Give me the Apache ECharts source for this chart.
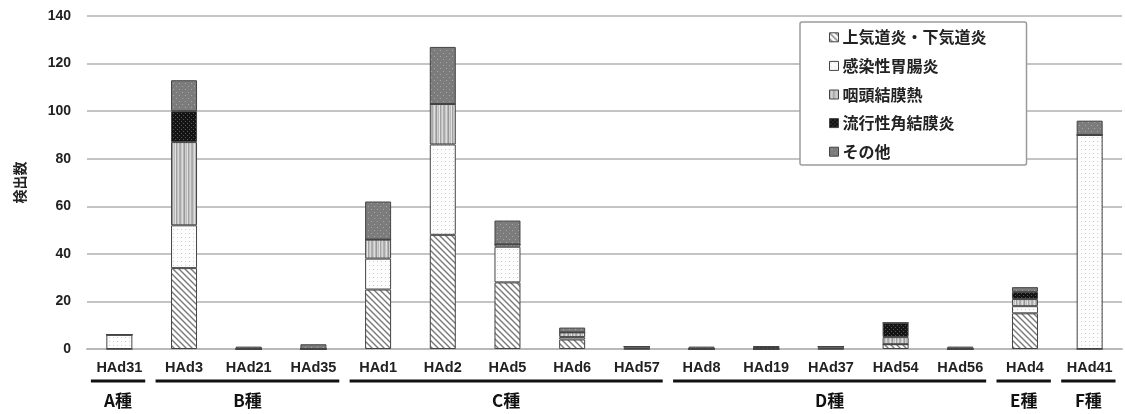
<!DOCTYPE html>
<html><head><meta charset="utf-8">
<script src="https://cdn.jsdelivr.net/npm/echarts@6/dist/echarts.min.js"></script>
<style>html,body{margin:0;padding:0;background:#fff}#c{width:1125px;height:414px}</style>
</head><body><div id="c"></div>
<script>
const categories = ['HAd31','HAd3','HAd21','HAd35','HAd1','HAd2','HAd5','HAd6','HAd57','HAd8','HAd19','HAd37','HAd54','HAd56','HAd4','HAd41'];
const seriesNames = ['上気道炎・下気道炎','感染性胃腸炎','咽頭結膜熱','流行性角結膜炎','その他'];
const upperResp   = [0,34,0,0,25,48,28,4,0,0,0,0,2,0,15,0];
const gastro      = [6,18,0,0,13,38,15,1,1,0,0,1,0,0,3,90];
const pcf         = [0,35,0,0,8,17,1,2,0,0,0,0,3,0,3,0];
const ekc         = [0,13,0,0,0,0,0,0,0,0,1,0,6,0,3,0];
const other       = [0,13,1,2,16,24,10,2,0,1,0,0,0,1,2,6];
const yTicks = [0,20,40,60,80,100,120,140];
const groups = [
  {label:'A種', from:'HAd31', to:'HAd31'},
  {label:'B種', from:'HAd3', to:'HAd35'},
  {label:'C種', from:'HAd1', to:'HAd57'},
  {label:'D種', from:'HAd8', to:'HAd56'},
  {label:'E種', from:'HAd4', to:'HAd4'},
  {label:'F種', from:'HAd41', to:'HAd41'}
];

function pat(w,h,draw){const c=document.createElement('canvas');c.width=w;c.height=h;const g=c.getContext('2d');draw(g,w,h);return {image:c,repeat:'repeat'};}
const fills = [
  pat(6,6,(g,w,h)=>{g.fillStyle='#fff';g.fillRect(0,0,w,h);g.strokeStyle='#7a7a7a';g.lineWidth=1.4;
    for(const k of [-w,0,w]){g.beginPath();g.moveTo(k-1,-1);g.lineTo(k+w+1,h+1);g.stroke();}}),
  pat(4,4,(g,w,h)=>{g.fillStyle='#fdfdfd';g.fillRect(0,0,w,h);g.fillStyle='#cfcfcf';g.fillRect(1,1,1,1);}),
  pat(12,4,(g,w,h)=>{const cols=['#a8a8a8','#c8c8c8','#dedede','#b4b4b4','#989898','#cfcfcf','#bcbcbc','#e2e2e2','#a0a0a0','#c4c4c4','#d6d6d6','#b0b0b0'];
    cols.forEach((c,i)=>{g.fillStyle=c;g.fillRect(i,0,1,h);});}),
  pat(4,4,(g,w,h)=>{g.fillStyle='#141414';g.fillRect(0,0,w,h);g.fillStyle='#555';g.fillRect(1,1,1,1);g.fillRect(3,3,1,1);}),
  pat(6,6,(g,w,h)=>{g.fillStyle='#7c7c7c';g.fillRect(0,0,w,h);g.fillStyle='#a6a6a6';g.fillRect(2,2,1,1);g.fillRect(5,5,1,1);})
];
const dataSets = [upperResp,gastro,pcf,ekc,other];

const chart = echarts.init(document.getElementById('c'));
const jp = '"Noto Sans CJK JP", sans-serif';
chart.setOption({
  animation:false,
  grid:{left:87,right:3,top:16,bottom:65},
  legend:{
    orient:'vertical', left:800, top:22, width:227,
    padding:[6,40,4,29], itemGap:10, itemWidth:9, itemHeight:9,
    borderColor:'#9a9a9a', borderWidth:1.5, borderRadius:2, backgroundColor:'#fff',
    textStyle:{fontFamily:jp, fontSize:16, lineHeight:18.6, fontWeight:'bold', color:'#222', padding:[0,0,0,-1]},
    icon:'rect',
    data: seriesNames.map(n=>({name:n, itemStyle:{borderColor:'#444',borderWidth:1}}))
  },
  xAxis:{
    type:'category', data:categories,
    axisLine:{lineStyle:{color:'#b8b8b8',width:2}}, axisTick:{show:false},
    axisLabel:{fontFamily:'"Liberation Sans", Arial, sans-serif', fontWeight:'bold', fontSize:14.5, color:'#222', margin:11, interval:0}
  },
  yAxis:{
    type:'value', min:0, max:140, interval:20,
    name:'検出数', nameLocation:'middle', nameRotate:90, nameGap:60,
    nameTextStyle:{fontFamily:jp, fontSize:14, fontWeight:'bold', color:'#222'},
    axisLine:{show:false}, axisTick:{show:false},
    axisLabel:{fontFamily:'"Liberation Sans", Arial, sans-serif', fontWeight:'bold', fontSize:14, color:'#222', margin:16,
      formatter:v=>yTicks.includes(v)?String(v):''},
    splitLine:{lineStyle:{color:'#b0b0b0',width:1.5}}
  },
  series: seriesNames.map((n,i)=>({
    name:n, type:'bar', stack:'total', barWidth:26,
    data:dataSets[i],
    itemStyle:{color:fills[i], borderColor:'#444', borderWidth:1}
  }))
});

const band = chart.convertToPixel({xAxisIndex:0}, categories[1]) - chart.convertToPixel({xAxisIndex:0}, categories[0]);
const graphics = [];
groups.forEach(g=>{
  const x1 = chart.convertToPixel({xAxisIndex:0}, g.from) - band*0.44;
  const x2 = chart.convertToPixel({xAxisIndex:0}, g.to) + band*0.4;
  graphics.push({type:'line', shape:{x1:x1,y1:381,x2:x2,y2:381}, style:{stroke:'#111',lineWidth:3}});
  graphics.push({type:'text', x:(x1+x2)/2, y:401, style:{text:g.label, fill:'#111', font:'bold 17px "Noto Sans CJK JP", sans-serif', textAlign:'center', textVerticalAlign:'middle'}});
});
chart.setOption({graphic:graphics});
</script>
</body></html>
